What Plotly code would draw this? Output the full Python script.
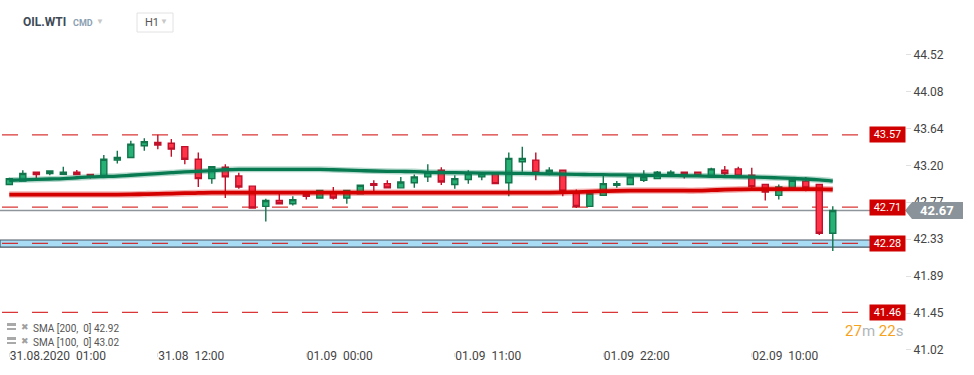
import plotly.graph_objects as go

# ---------------- data ----------------
hours_3108 = ["31.08 %02d:00" % h for h in range(1, 23)]
hours_0109 = ["01.09 %02d:00" % h for h in range(0, 23)]
hours_0209 = ["02.09 %02d:00" % h for h in range(0, 17)]
times = hours_3108 + hours_0109 + hours_0209

opens = [42.98, 43.02, 43.125, 43.11, 43.10, 43.125, 43.10, 43.08, 43.27, 43.30,
         43.44, 43.48, 43.47, 43.43, 43.28, 43.05, 43.185, 43.08, 42.96, 42.72,
         42.79, 42.75, 42.87, 42.82, 42.88, 42.82, 42.87, 42.99, 42.99, 42.94,
         43.00, 43.07, 43.15, 42.98, 43.04, 43.07, 43.11, 43.00, 43.25, 43.27,
         43.10, 43.15, 42.88, 42.72, 42.85, 42.97, 42.98, 43.03, 43.05, 43.09,
         43.125, 43.125, 43.08, 43.15, 43.165, 43.09, 42.98, 42.85, 42.94, 43.02,
         42.98, 42.40]
highs = [43.06, 43.15, 43.125, 43.14, 43.19, 43.153, 43.10, 43.33, 43.38, 43.50,
         43.53, 43.57, 43.52, 43.43, 43.36, 43.19, 43.22, 43.12, 42.96, 42.81,
         42.87, 42.84, 42.87, 42.91, 42.95, 42.91, 42.98, 43.03, 43.03, 43.07,
         43.10, 43.22, 43.185, 43.09, 43.15, 43.11, 43.11, 43.36, 43.43, 43.36,
         43.185, 43.15, 42.92, 42.88, 43.09, 43.02, 43.09, 43.15, 43.14, 43.15,
         43.125, 43.125, 43.18, 43.20, 43.19, 43.18, 42.98, 42.98, 43.03, 43.07,
         42.98, 42.72]
lows = [42.98, 43.02, 43.046, 43.09, 43.10, 43.097, 43.05, 43.08, 43.23, 43.30,
        43.38, 43.40, 43.31, 43.22, 42.95, 42.99, 42.82, 42.93, 42.69, 42.54,
        42.75, 42.73, 42.80, 42.82, 42.80, 42.75, 42.87, 42.90, 42.94, 42.94,
        42.94, 43.01, 42.975, 42.93, 42.99, 43.03, 42.99, 42.84, 43.13, 43.03,
        43.09, 42.84, 42.70, 42.72, 42.85, 42.94, 42.98, 43.01, 43.05, 43.09,
        43.05, 43.086, 43.08, 43.08, 43.08, 42.935, 42.79, 42.80, 42.94, 42.90,
        42.38, 42.19]
closes = [43.05, 43.11, 43.097, 43.14, 43.125, 43.097, 43.08, 43.28, 43.30, 43.46,
          43.49, 43.45, 43.40, 43.28, 43.05, 43.19, 43.07, 42.95, 42.70, 42.79,
          42.75, 42.80, 42.84, 42.91, 42.82, 42.91, 42.97, 42.97, 42.94, 43.01,
          43.07, 43.125, 43.01, 43.05, 43.11, 43.11, 42.99, 43.29, 43.29, 43.12,
          43.15, 42.90, 42.72, 42.875, 42.99, 42.99, 43.07, 43.07, 43.125, 43.125,
          43.097, 43.086, 43.165, 43.11, 43.082, 42.955, 42.89, 42.95, 43.03, 42.94,
          42.40, 42.67]

sma100 = [43.03, 43.035, 43.04, 43.045, 43.05, 43.06, 43.07, 43.075, 43.08, 43.09,
          43.10, 43.11, 43.12, 43.13, 43.135, 43.145, 43.155, 43.16, 43.16, 43.16,
          43.16, 43.16, 43.16, 43.16, 43.155, 43.15, 43.145, 43.14, 43.137, 43.135,
          43.133, 43.125, 43.122, 43.12, 43.118, 43.116, 43.115, 43.113, 43.112, 43.11,
          43.107, 43.103, 43.10, 43.098, 43.096, 43.094, 43.092, 43.09, 43.088, 43.086,
          43.084, 43.082, 43.078, 43.075, 43.072, 43.068, 43.064, 43.058, 43.052, 43.045,
          43.035, 43.02]
sma200 = [42.86, 42.86, 42.86, 42.86, 42.86, 42.86, 42.86, 42.86, 42.86, 42.862,
          42.865, 42.868, 42.872, 42.876, 42.879, 42.882, 42.883, 42.883, 42.883, 42.883,
          42.883, 42.883, 42.883, 42.883, 42.883, 42.883, 42.883, 42.883, 42.883, 42.883,
          42.883, 42.883, 42.883, 42.883, 42.883, 42.883, 42.883, 42.883, 42.883, 42.883,
          42.883, 42.885, 42.89, 42.895, 42.90, 42.905, 42.907, 42.907, 42.907, 42.907,
          42.907, 42.907, 42.912, 42.918, 42.922, 42.925, 42.925, 42.925, 42.925, 42.925,
          42.925, 42.92]

level_prices = [43.57, 42.71, 42.28, 41.46]
zone_low, zone_high = 42.235, 42.32
current_price = 42.67

y_tick_vals = [41.02, 41.45, 41.89, 42.33, 42.77, 43.20, 43.64, 44.08, 44.52]
y_tick_text = ["41.02", "41.45", "41.89", "42.33", "42.77", "43.20", "43.64", "44.08", "44.52"]
x_tick_times = ["31.08 01:00", "31.08 12:00", "01.09 00:00", "01.09 11:00", "01.09 22:00", "02.09 10:00"]
x_tick_text = ["31.08.2020  01:00", "31.08  12:00", "01.09  00:00", "01.09  11:00", "01.09  22:00", "02.09  10:00"]

legend_items = [("SMA [200,  0]", 42.92), ("SMA [100,  0]", 43.02)]
symbol, instr_type, interval = "OIL.WTI", "CMD", "H1"

# ---------------- layout geometry ----------------
W, H = 974, 375
ML, MR, MT, MB = 0, 69, 40, 23
PW, PH = W - ML - MR, H - MT - MB
Y0, Y1 = 40.988, 44.698


def px(x):
    return (x - ML) / PW


def py(y):
    return (H - MB - y) / PH


FONT = "Roboto, Arial, sans-serif"

fig = go.Figure()

fig.add_trace(go.Candlestick(
    x=times, open=opens, high=highs, low=lows, close=closes,
    increasing=dict(fillcolor="#27b176", line=dict(color="#11744a", width=1.4)),
    decreasing=dict(fillcolor="#ff3348", line=dict(color="#c0102a", width=1.4)),
    whiskerwidth=0, hoverinfo="skip", showlegend=False,
))

# SMA halos + lines
fig.add_trace(go.Scatter(x=times, y=sma100, mode="lines",
                         line=dict(color="rgba(10,125,85,0.3)", width=6, shape="spline"),
                         hoverinfo="skip", showlegend=False))
fig.add_trace(go.Scatter(x=times, y=sma100, mode="lines",
                         line=dict(color="#087a52", width=3.3, shape="spline"),
                         hoverinfo="skip", showlegend=False))
fig.add_trace(go.Scatter(x=times, y=sma200, mode="lines",
                         line=dict(color="rgba(215,0,0,0.3)", width=6.5, shape="spline"),
                         hoverinfo="skip", showlegend=False))
fig.add_trace(go.Scatter(x=times, y=sma200, mode="lines",
                         line=dict(color="#d40000", width=3.8, shape="spline"),
                         hoverinfo="skip", showlegend=False))

shapes = []
# support zone
shapes.append(dict(type="rect", xref="paper", yref="y", x0=0, x1=px(871),
                   y0=zone_low, y1=zone_high, fillcolor="#a8dbf4",
                   line=dict(color="#4a5763", width=1.2), layer="below"))
# current price line
shapes.append(dict(type="line", xref="paper", yref="y", x0=0, x1=1,
                   y0=current_price, y1=current_price,
                   line=dict(color="#8e969b", width=1.5), layer="below"))
# dashed levels
for lv in level_prices:
    shapes.append(dict(type="line", xref="paper", yref="y", x0=px(2), x1=px(868),
                       y0=lv, y1=lv,
                       line=dict(color="rgba(210,20,20,0.85)", width=1.2, dash="16px,14px"),
                       layer="above" if lv == 42.28 else "below"))

# current price tag with arrow
hh = 8.5 * (Y1 - Y0) / PH
shapes.append(dict(type="path", xref="paper", yref="y",
                   path="M %f,%f L %f,%f L %f,%f L %f,%f L %f,%f Z" % (
                       px(905), current_price,
                       px(912), current_price + hh,
                       px(963), current_price + hh,
                       px(963), current_price - hh,
                       px(912), current_price - hh),
                   fillcolor="#8a9399", line=dict(width=0), layer="above"))

# header interval box
shapes.append(dict(type="rect", xref="paper", yref="paper", x0=px(137), x1=px(173),
                   y0=py(32), y1=py(13), line=dict(color="#e2e2e2", width=1),
                   fillcolor="white", layer="above"))

# legend icons
for k, (name, val) in enumerate(legend_items):
    yc = 327 + 14 * k
    shapes.append(dict(type="rect", xref="paper", yref="paper", x0=px(7), x1=px(16),
                       y0=py(yc - 1), y1=py(yc - 4), fillcolor="#a9a9a9", line=dict(width=0)))
    shapes.append(dict(type="rect", xref="paper", yref="paper", x0=px(7), x1=px(16),
                       y0=py(yc + 3), y1=py(yc + 1), fillcolor="#a9a9a9", line=dict(width=0)))

annotations = []
for lv in level_prices:
    annotations.append(dict(xref="paper", yref="y", x=px(869), y=lv, xanchor="left",
                            yanchor="middle", text="%.2f" % lv, showarrow=False,
                            font=dict(family=FONT, size=11, color="white"),
                            bgcolor="#d10000", width=33, height=13, borderpad=1, align="center"))
annotations.append(dict(xref="paper", yref="y", x=px(937), y=current_price, xanchor="center",
                        yanchor="middle", text="<b>%.2f</b>" % current_price, showarrow=False,
                        font=dict(family=FONT, size=13, color="white")))
# header
annotations.append(dict(xref="paper", yref="paper", x=px(21), y=py(22), xanchor="left",
                        yanchor="middle", text="<b>%s</b>" % symbol, showarrow=False,
                        font=dict(family=FONT, size=12, color="#3e4a55")))
annotations.append(dict(xref="paper", yref="paper", x=px(71), y=py(23), xanchor="left",
                        yanchor="middle", text="<b>%s</b>" % instr_type, showarrow=False,
                        font=dict(family=FONT, size=9, color="#8aa0b2")))
annotations.append(dict(xref="paper", yref="paper", x=px(100), y=py(21), xanchor="center",
                        yanchor="middle", text="▼", showarrow=False,
                        font=dict(family=FONT, size=8, color="#c8c8c8")))
annotations.append(dict(xref="paper", yref="paper", x=px(143), y=py(22.5), xanchor="left",
                        yanchor="middle", text=interval, showarrow=False,
                        font=dict(family=FONT, size=11, color="#555")))
annotations.append(dict(xref="paper", yref="paper", x=px(164), y=py(22), xanchor="center",
                        yanchor="middle", text="▼", showarrow=False,
                        font=dict(family=FONT, size=8, color="#c8c8c8")))
# legend texts
for k, (name, val) in enumerate(legend_items):
    yc = 327 + 14 * k
    annotations.append(dict(xref="paper", yref="paper", x=px(19), y=py(yc), xanchor="left",
                            yanchor="middle", text="✖", showarrow=False,
                            font=dict(family="DejaVu Sans", size=9, color="#a0a0a0")))
    annotations.append(dict(xref="paper", yref="paper", x=px(31), y=py(yc + 1), xanchor="left",
                            yanchor="middle", text="%s %.2f" % (name, val), showarrow=False,
                            font=dict(family=FONT, size=10, color="#555")))
# countdown
annotations.append(dict(xref="paper", yref="paper", x=px(905), y=py(331), xanchor="right",
                        yanchor="middle",
                        text='<span style="color:#f7a21b">27</span><span style="color:#b0b6bb">m </span>'
                             '<span style="color:#f7a21b">22</span><span style="color:#b0b6bb">s</span>',
                        showarrow=False, font=dict(family=FONT, size=15, color="#f7a21b")))

fig.update_layout(
    width=W, height=H,
    margin=dict(l=ML, r=MR, t=MT, b=MB, autoexpand=False),
    paper_bgcolor="white", plot_bgcolor="white",
    showlegend=False, boxgap=0.36,
    shapes=shapes, annotations=annotations,
    xaxis=dict(type="category", categoryorder="array", categoryarray=times,
               range=[-0.69, 66.35], rangeslider=dict(visible=False),
               showgrid=False, zeroline=False, showline=False,
               tickmode="array", tickvals=x_tick_times, ticktext=x_tick_text,
               ticks="outside", ticklen=4, tickcolor="#e0e0e0",
               ticklabelposition="outside right", ticklabelstandoff=-7,
               tickfont=dict(family=FONT, size=12, color="#444"), automargin=False),
    yaxis=dict(side="right", range=[Y0, Y1], showgrid=False, zeroline=False, showline=False,
               tickmode="array", tickvals=y_tick_vals, ticktext=y_tick_text,
               ticks="outside", ticklen=5, tickcolor="#e0e0e0",
               tickfont=dict(family=FONT, size=12, color="#444"), automargin=False),
)

fig.write_html("out.html", post_script="document.body.style.margin='0';",
               config={"displayModeBar": False})
